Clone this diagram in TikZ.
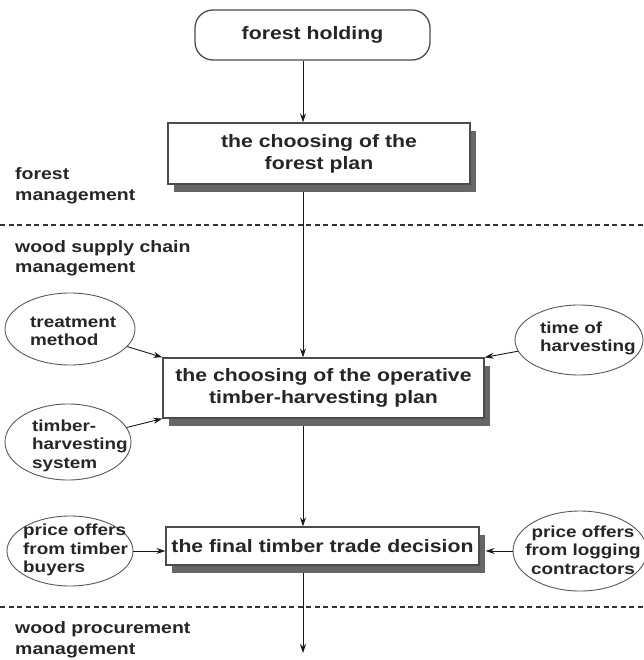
\documentclass[tikz,border=0pt]{standalone}
\usepackage{fontspec}
\setmainfont{Liberation Sans}[FakeStretch=1.18]
\usetikzlibrary{shapes.geometric,arrows.meta,shadows,backgrounds}
\begin{document}
\begin{tikzpicture}[x=1pt,y=-1pt,
  boxfont/.style={font=\fontsize{18}{22}\selectfont\bfseries},
  mainbox/.style={draw=black!70,line width=1.3pt,fill=white,align=center,inner sep=0pt,boxfont,text=black!85,
    drop shadow={shadow xshift=6pt,shadow yshift=-8pt,fill=black!60,opacity=1}},
  startbox/.style={draw=black!70,line width=1.3pt,fill=white,rounded corners=18pt,inner sep=0pt,boxfont,text=black!85},
  ell/.style={ellipse,draw=black!65,line width=0.9pt,fill=white,inner sep=0pt},
  lab/.style={font=\fontsize{16.5}{20.5}\selectfont\bfseries,align=left,inner sep=0pt,anchor=west,text=black!85},
  elab/.style={font=\fontsize{16}{18.5}\selectfont\bfseries,align=left,inner sep=0pt,text=black!85},
  arr/.style={-{Stealth[length=9pt,width=6pt]},line width=0.9pt,draw=black!90},
  sep/.style={dash pattern=on 5pt off 3.5pt,line width=1.3pt,draw=black!80}]
\useasboundingbox (0,0) rectangle (643,660);

% dashed separators
\draw[sep] (0,225) -- (643,225);
\draw[sep] (0,607) -- (643,607);

% side labels
\node[lab] (lfm) at (15,186) {forest\\management};
\node[lab] (lws) at (15,258.5) {wood supply chain\\management};
\node[lab] (lwp) at (15,640) {wood procurement\\management};

% boxes
\coordinate (col) at (303,0);
\node[startbox,minimum width=235pt,minimum height=50pt] (fh) at (312.5,35) {forest holding};
\node[mainbox,minimum width=302pt,minimum height=61pt] (fp) at (319,153.5) {the choosing of the\\forest plan};
\node[mainbox,minimum width=321pt,minimum height=60pt] (op) at (323.5,388) {the choosing of the operative\\timber-harvesting plan};
\node[mainbox,minimum width=313pt,minimum height=38pt] (fd) at (322.5,546) {the final timber trade decision};
\coordinate (end) at (303,653);

% ellipses
\node[ell,minimum width=130pt,minimum height=72pt] (tm) at (70,329) {};
\node[elab,anchor=west] (tmt) at (30,331.5) {treatment\\method};
\node[ell,minimum width=126pt,minimum height=76pt] (ths) at (68,442) {};
\node[elab,anchor=west] (thst) at (32,445.5) {timber-\\harvesting\\system};
\node[ell,minimum width=128pt,minimum height=70pt] (toh) at (579,340) {};
\node[elab,anchor=west] (toht) at (540,338.5) {time of\\harvesting};
\node[ell,minimum width=126pt,minimum height=70pt] (pob) at (70,551) {};
\node[elab,anchor=west] (pobt) at (23,550) {price offers\\from timber\\buyers};
\node[ell,minimum width=134pt,minimum height=80pt] (poc) at (580,551) {};
\node[elab,align=center] (poct) at (583,550) {price offers\\from logging\\contractors};

% connectors
\begin{scope}[on background layer]
\draw[arr] (fh.south -| col) -- (fp.north -| col);
\draw[arr] (fp.south -| col) -- (op.north -| col);
\draw[arr] (op.south -| col) -- (fd.north -| col);
\draw[arr] (fd.south -| col) -- (end);
\end{scope}
\draw[arr] (tm) -- (op.north west);
\draw[arr] (ths) -- (op.south west);
\draw[arr] (toh) -- (op.north east);
\draw[arr] (pob) -- (pob -| fd.west);
\draw[arr] (poc) -- ([xshift=6pt]poc -| fd.east);
\end{tikzpicture}
\end{document}
